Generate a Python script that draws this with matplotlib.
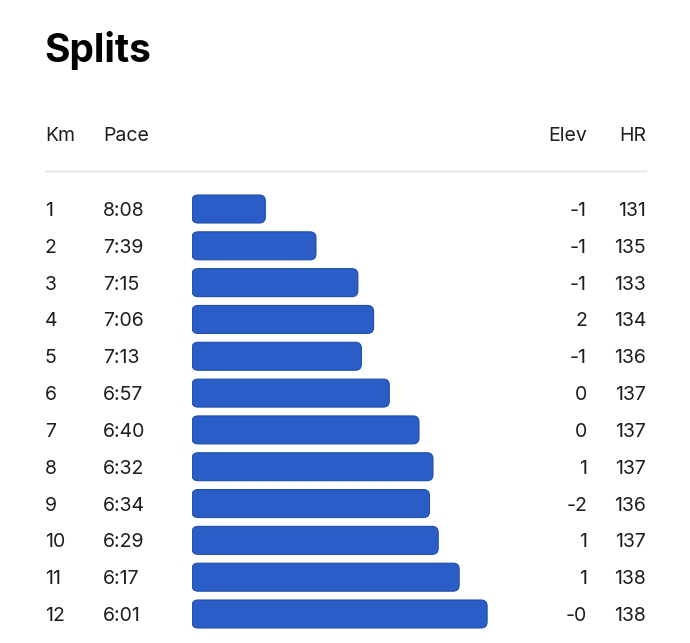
import matplotlib
matplotlib.use("Agg")
import matplotlib.pyplot as plt
import matplotlib.transforms as mtransforms
from matplotlib.patches import FancyBboxPatch

# ── Data ──────────────────────────────────────────────────────────────────────
km = [1, 2, 3, 4, 5, 6, 7, 8, 9, 10, 11, 12]
pace = ["8:08", "7:39", "7:15", "7:06", "7:13", "6:57",
        "6:40", "6:32", "6:34", "6:29", "6:17", "6:01"]
elev = ["-1", "-1", "-1", "2", "-1", "0", "0", "1", "-2", "1", "1", "-0"]
hr = [131, 135, 133, 134, 136, 137, 137, 137, 136, 137, 138, 138]

pace_sec = [int(p.split(":")[0]) * 60 + int(p.split(":")[1]) for p in pace]

# bar scale: bars grow from a slow reference pace toward faster paces
PACE_SLOW = 530
PACE_FAST = 270

# ── Style ─────────────────────────────────────────────────────────────────────
plt.rcParams["font.family"] = ["Inter", "DejaVu Sans"]
BAR = "#2a5ec6"
BAR_EDGE = "#1f4eab"
TXT = "#1e1e1e"
RULE = "#e2e2e2"

W, H = 690, 643
fig = plt.figure(figsize=(W / 100, H / 100), dpi=100, facecolor="white")

def fx(px):
    return px / W

def fy(py):
    return 1 - py / H

# bar axes: rows 1..12, top of row 1 at ~191px, bottom of row 12 at ~632px
ax = fig.add_axes([fx(192), fy(632.4), fx(646) - fx(192), (632.4 - 190.6) / H])
ax.set_xlim(PACE_SLOW, PACE_FAST)
ax.set_ylim(12.5, 0.5)
ax.axis("off")

bars = ax.barh(km, [PACE_SLOW - p for p in pace_sec], left=pace_sec, height=0.76)

# swap plain rectangles for rounded ones (radius ~6px)
px_per_x = (646 - 192) / (PACE_SLOW - PACE_FAST)
px_per_y = (632.4 - 190.6) / 12
r = 6 / px_per_x
for b in bars:
    x0, y0, w, h = b.get_x(), b.get_y(), b.get_width(), b.get_height()
    b.remove()
    ax.add_patch(FancyBboxPatch(
        (x0, y0), w, h,
        boxstyle=f"round,pad=0,rounding_size={r}",
        mutation_aspect=px_per_x / px_per_y,
        facecolor=BAR, edgecolor=BAR_EDGE, linewidth=0.8))

# ── Text columns ──────────────────────────────────────────────────────────────
row_tf = mtransforms.blended_transform_factory(fig.transFigure, ax.transData)
for i in range(len(km)):
    y = km[i]
    kw = dict(transform=row_tf, fontsize=14, color=TXT, va="center_baseline")
    fig.text(fx(45), y, str(km[i]), ha="left", **kw)
    fig.text(fx(103), y, pace[i], ha="left", **kw)
    fig.text(fx(587), y, elev[i], ha="right", **kw)
    fig.text(fx(646), y, str(hr[i]), ha="right", **kw)

# header
hdr = dict(fontsize=14, color=TXT, va="baseline")
fig.text(fx(45), fy(141), "Km", ha="left", **hdr)
fig.text(fx(103), fy(141), "Pace", ha="left", **hdr)
fig.text(fx(587), fy(141), "Elev", ha="right", **hdr)
fig.text(fx(646), fy(141), "HR", ha="right", **hdr)

# separator rule
fig.add_artist(plt.Line2D([fx(45), fx(646)], [fy(171), fy(171)],
                          color=RULE, linewidth=1))

# title
fig.text(fx(44), fy(62), "Splits", fontsize=28, fontweight="bold",
         color="black", ha="left", va="baseline")

plt.savefig("out.png", dpi=100, facecolor="white")
